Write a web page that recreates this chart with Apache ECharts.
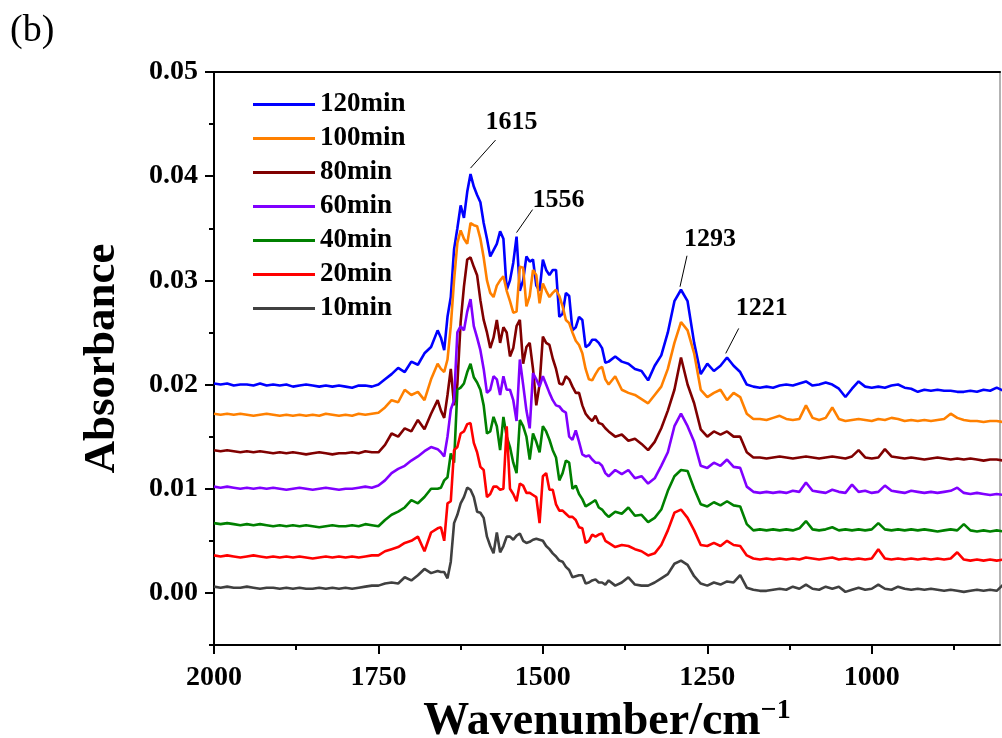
<!DOCTYPE html>
<html>
<head>
<meta charset="utf-8">
<script src="https://cdn.jsdelivr.net/npm/echarts@6/dist/echarts.min.js"></script>
<style>
html,body{margin:0;padding:0;background:#fff;}
#chart{width:1002px;height:738px;}
</style>
</head>
<body>
<div id="chart"></div>
<script>
// ---- data ----
// main sampling grid (every 10 cm-1) and extra mid points in the busy 1655-1405 band
const wavenumbers = [];
for (let w = 2000; w >= 800; w -= 10) wavenumbers.push(w);
const midWavenumbers = [];
for (let w = 1655; w >= 1405; w -= 10) midWavenumbers.push(w);

const seriesNames = ['120min','100min','80min','60min','40min','20min','10min'];

const abs120 = [
0.0201,0.0200,0.0201,0.0199,0.0200,0.0200,0.0199,0.0201,0.0199,0.0200,
0.0199,0.0200,0.0198,0.0199,0.0200,0.0199,0.0198,0.0199,0.0198,0.0199,
0.0198,0.0197,0.0199,0.0199,0.0198,0.0200,0.0205,0.0210,0.0216,0.0212,
0.0222,0.0219,0.0230,0.0236,0.0252,0.0233,0.0284,0.0350,0.0360,0.0402,
0.0382,0.0355,0.0323,0.0335,0.0340,0.0300,0.0342,0.0300,0.0318,0.0295,
0.0320,0.0305,0.0310,0.0268,0.0285,0.0255,0.0262,0.0238,0.0243,0.0235,
0.0222,0.0227,0.0222,0.0220,0.0215,0.0213,0.0204,0.0218,0.0228,0.0250,
0.0280,0.0291,0.0280,0.0240,0.0210,0.0220,0.0213,0.0218,0.0226,0.0218,
0.0212,0.0200,0.0198,0.0197,0.0198,0.0197,0.0199,0.0200,0.0199,0.0201,
0.0203,0.0199,0.0200,0.0202,0.0200,0.0196,0.0188,0.0196,0.0203,0.0198,
0.0197,0.0198,0.0197,0.0199,0.0200,0.0197,0.0196,0.0193,0.0195,0.0194,
0.0195,0.0194,0.0194,0.0193,0.0193,0.0194,0.0193,0.0195,0.0194,0.0197,
0.0194];
const mid120 = [0.0245,0.0265,0.0330,0.0372,0.0385,0.0390,0.0375,0.0340,0.0329,0.0347,
0.0291,0.0317,0.0290,0.0323,0.0320,0.0290,0.0310,0.0310,0.0265,0.0288,
0.0252,0.0265,0.0236,0.0243,0.0240,0.0221];

const abs100 = [
0.0172,0.0171,0.0172,0.0171,0.0172,0.0171,0.0170,0.0171,0.0172,0.0171,
0.0170,0.0171,0.0170,0.0171,0.0170,0.0171,0.0170,0.0172,0.0171,0.0170,
0.0171,0.0170,0.0172,0.0171,0.0172,0.0173,0.0178,0.0185,0.0183,0.0195,
0.0190,0.0193,0.0185,0.0205,0.0220,0.0212,0.0256,0.0336,0.0340,0.0355,
0.0352,0.0322,0.0288,0.0295,0.0304,0.0280,0.0270,0.0312,0.0285,0.0305,
0.0297,0.0284,0.0291,0.0275,0.0259,0.0242,0.0230,0.0205,0.0210,0.0217,
0.0200,0.0208,0.0195,0.0192,0.0190,0.0186,0.0182,0.0190,0.0198,0.0215,
0.0240,0.0260,0.0252,0.0230,0.0195,0.0188,0.0192,0.0195,0.0185,0.0192,
0.0188,0.0172,0.0167,0.0167,0.0166,0.0168,0.0170,0.0167,0.0166,0.0167,
0.0180,0.0168,0.0166,0.0168,0.0178,0.0167,0.0165,0.0166,0.0167,0.0166,
0.0165,0.0167,0.0166,0.0168,0.0167,0.0165,0.0166,0.0165,0.0166,0.0165,
0.0166,0.0167,0.0172,0.0168,0.0166,0.0165,0.0165,0.0164,0.0165,0.0165,
0.0164];
const mid100 = [0.0215,0.0224,0.0300,0.0348,0.0335,0.0353,0.0340,0.0300,0.0284,0.0300,
0.0290,0.0269,0.0313,0.0275,0.0310,0.0278,0.0290,0.0288,0.0285,0.0262,
0.0250,0.0238,0.0215,0.0204,0.0215,0.0205];

const abs80 = [
0.0137,0.0136,0.0137,0.0136,0.0135,0.0136,0.0135,0.0136,0.0135,0.0134,
0.0135,0.0134,0.0135,0.0134,0.0133,0.0134,0.0135,0.0134,0.0133,0.0134,
0.0134,0.0135,0.0134,0.0136,0.0135,0.0135,0.0142,0.0153,0.0150,0.0158,
0.0155,0.0166,0.0157,0.0172,0.0185,0.0168,0.0215,0.0200,0.0294,0.0322,
0.0305,0.0262,0.0235,0.0262,0.0255,0.0227,0.0256,0.0220,0.0240,0.0180,
0.0246,0.0238,0.0215,0.0200,0.0205,0.0192,0.0180,0.0168,0.0170,0.0162,
0.0155,0.0150,0.0152,0.0146,0.0148,0.0143,0.0137,0.0145,0.0158,0.0175,
0.0195,0.0226,0.0200,0.0182,0.0157,0.0150,0.0155,0.0152,0.0155,0.0150,
0.0150,0.0135,0.0130,0.0130,0.0129,0.0130,0.0131,0.0130,0.0129,0.0130,
0.0131,0.0130,0.0129,0.0130,0.0131,0.0130,0.0129,0.0131,0.0137,0.0130,
0.0129,0.0130,0.0138,0.0131,0.0130,0.0129,0.0130,0.0129,0.0128,0.0129,
0.0130,0.0129,0.0128,0.0129,0.0128,0.0129,0.0128,0.0127,0.0128,0.0128,
0.0127];
const mid80 = [0.0175,0.0190,0.0180,0.0260,0.0320,0.0313,0.0281,0.0250,0.0245,0.0240,
0.0250,0.0235,0.0262,0.0236,0.0215,0.0200,0.0240,0.0225,0.0201,0.0208,
0.0198,0.0192,0.0172,0.0165,0.0163,0.0158];

const abs60 = [
0.0102,0.0101,0.0102,0.0101,0.0100,0.0101,0.0100,0.0101,0.0100,0.0101,
0.0100,0.0099,0.0100,0.0101,0.0100,0.0099,0.0100,0.0101,0.0100,0.0099,
0.0100,0.0100,0.0101,0.0102,0.0101,0.0103,0.0108,0.0115,0.0119,0.0122,
0.0127,0.0131,0.0136,0.0140,0.0138,0.0131,0.0176,0.0250,0.0252,0.0282,
0.0245,0.0215,0.0195,0.0205,0.0208,0.0195,0.0165,0.0200,0.0158,0.0205,
0.0208,0.0192,0.0180,0.0175,0.0150,0.0156,0.0133,0.0132,0.0125,0.0122,
0.0112,0.0118,0.0114,0.0118,0.0110,0.0112,0.0105,0.0110,0.0122,0.0135,
0.0160,0.0172,0.0160,0.0145,0.0122,0.0120,0.0125,0.0122,0.0128,0.0121,
0.0120,0.0102,0.0097,0.0096,0.0097,0.0096,0.0097,0.0096,0.0098,0.0097,
0.0106,0.0098,0.0097,0.0096,0.0099,0.0097,0.0096,0.0104,0.0097,0.0098,
0.0096,0.0097,0.0103,0.0098,0.0097,0.0096,0.0098,0.0097,0.0096,0.0097,
0.0096,0.0097,0.0098,0.0101,0.0096,0.0095,0.0096,0.0095,0.0094,0.0095,
0.0094];
const mid60 = [0.0135,0.0150,0.0185,0.0256,0.0270,0.0256,0.0233,0.0192,0.0208,0.0190,
0.0195,0.0185,0.0224,0.0175,0.0211,0.0198,0.0200,0.0185,0.0179,0.0173,
0.0147,0.0145,0.0131,0.0128,0.0125,0.0115];

const abs40 = [
0.0067,0.0066,0.0067,0.0066,0.0065,0.0066,0.0065,0.0066,0.0065,0.0064,
0.0065,0.0064,0.0065,0.0064,0.0065,0.0064,0.0063,0.0064,0.0065,0.0064,
0.0064,0.0065,0.0064,0.0066,0.0065,0.0064,0.0070,0.0075,0.0078,0.0082,
0.0089,0.0086,0.0092,0.0100,0.0100,0.0108,0.0134,0.0195,0.0201,0.0220,
0.0202,0.0180,0.0155,0.0160,0.0169,0.0140,0.0115,0.0160,0.0128,0.0145,
0.0160,0.0147,0.0130,0.0115,0.0125,0.0103,0.0090,0.0085,0.0089,0.0080,
0.0073,0.0078,0.0076,0.0082,0.0074,0.0075,0.0068,0.0072,0.0080,0.0098,
0.0112,0.0118,0.0117,0.0100,0.0085,0.0083,0.0087,0.0084,0.0088,0.0084,
0.0083,0.0066,0.0060,0.0061,0.0060,0.0061,0.0060,0.0061,0.0060,0.0062,
0.0069,0.0061,0.0060,0.0061,0.0063,0.0060,0.0061,0.0060,0.0061,0.0060,
0.0061,0.0067,0.0061,0.0060,0.0061,0.0060,0.0061,0.0060,0.0061,0.0060,
0.0059,0.0060,0.0061,0.0060,0.0066,0.0060,0.0059,0.0060,0.0059,0.0060,
0.0059];
const mid40 = [0.0101,0.0111,0.0125,0.0197,0.0212,0.0207,0.0195,0.0153,0.0169,0.0137,
0.0150,0.0125,0.0166,0.0150,0.0153,0.0135,0.0155,0.0137,0.0108,0.0127,
0.0100,0.0095,0.0083,0.0087,0.0082,0.0076];

const abs20 = [
0.0036,0.0035,0.0036,0.0035,0.0034,0.0035,0.0036,0.0035,0.0034,0.0035,
0.0034,0.0035,0.0034,0.0035,0.0034,0.0033,0.0034,0.0035,0.0034,0.0035,
0.0034,0.0035,0.0034,0.0035,0.0036,0.0036,0.0040,0.0042,0.0044,0.0048,
0.0050,0.0054,0.0040,0.0058,0.0062,0.0050,0.0088,0.0140,0.0155,0.0163,
0.0135,0.0118,0.0095,0.0102,0.0100,0.0100,0.0088,0.0103,0.0096,0.0092,
0.0112,0.0099,0.0085,0.0079,0.0073,0.0070,0.0062,0.0050,0.0054,0.0057,
0.0048,0.0044,0.0046,0.0045,0.0042,0.0040,0.0036,0.0038,0.0046,0.0060,
0.0077,0.0080,0.0072,0.0060,0.0046,0.0045,0.0048,0.0045,0.0050,0.0046,
0.0045,0.0036,0.0033,0.0032,0.0033,0.0032,0.0033,0.0032,0.0033,0.0032,
0.0034,0.0033,0.0032,0.0033,0.0034,0.0032,0.0033,0.0032,0.0033,0.0032,
0.0033,0.0042,0.0033,0.0032,0.0033,0.0032,0.0033,0.0032,0.0033,0.0032,
0.0033,0.0032,0.0033,0.0039,0.0032,0.0031,0.0032,0.0031,0.0032,0.0031,
0.0032];
const mid20 = [0.0063,0.0086,0.0137,0.0153,0.0162,0.0144,0.0121,0.0092,0.0102,0.0099,
0.0160,0.0095,0.0105,0.0096,0.0094,0.0067,0.0115,0.0099,0.0079,0.0076,
0.0073,0.0063,0.0048,0.0056,0.0056,0.0050];

const abs10 = [
0.0006,0.0005,0.0006,0.0005,0.0005,0.0006,0.0005,0.0004,0.0005,0.0005,
0.0004,0.0005,0.0004,0.0005,0.0004,0.0004,0.0005,0.0004,0.0005,0.0004,
0.0005,0.0004,0.0005,0.0006,0.0007,0.0007,0.0009,0.0010,0.0009,0.0015,
0.0012,0.0017,0.0023,0.0019,0.0021,0.0020,0.0030,0.0075,0.0092,0.0099,
0.0078,0.0072,0.0045,0.0058,0.0045,0.0054,0.0055,0.0050,0.0049,0.0052,
0.0050,0.0042,0.0035,0.0030,0.0022,0.0016,0.0017,0.0010,0.0013,0.0010,
0.0012,0.0007,0.0010,0.0015,0.0008,0.0007,0.0007,0.0010,0.0014,0.0018,
0.0028,0.0031,0.0027,0.0016,0.0009,0.0007,0.0010,0.0008,0.0011,0.0010,
0.0017,0.0005,0.0003,0.0002,0.0002,0.0003,0.0004,0.0003,0.0006,0.0004,
0.0008,0.0004,0.0003,0.0006,0.0004,0.0006,0.0001,0.0003,0.0005,0.0003,
0.0004,0.0008,0.0004,0.0003,0.0006,0.0004,0.0003,0.0004,0.0003,0.0004,
0.0003,0.0002,0.0003,0.0002,0.0001,0.0002,0.0003,0.0002,0.0003,0.0002,
0.0008];
const mid10 = [0.0020,0.0014,0.0067,0.0086,0.0101,0.0092,0.0077,0.0054,0.0038,0.0039,
0.0054,0.0051,0.0057,0.0048,0.0051,0.0051,0.0045,0.0038,0.0031,0.0025,
0.0015,0.0017,0.0009,0.0012,0.0010,0.0008];

const seriesValues = [abs120, abs100, abs80, abs60, abs40, abs20, abs10];
const seriesMidValues = [mid120, mid100, mid80, mid60, mid40, mid20, mid10];
const seriesColors = ['#0000FF','#FF8000','#800000','#8000FF','#008000','#FF0000','#404040'];

const xMajorTicks = [2000, 1750, 1500, 1250, 1000];
const xMinorTicks = [1875, 1625, 1375, 1125, 875];
const yMajorTicks = [0, 0.01, 0.02, 0.03, 0.04, 0.05];
const yMinorTicks = [-0.005, 0.005, 0.015, 0.025, 0.035, 0.045];

// peak annotations: label, wavenumber, absorbance of the 120min curve
const peakLabels = ['1615', '1556', '1293', '1221'];
const peakWavenumbers = [1610, 1540, 1290, 1222];
const peakValues = [0.0402, 0.0342, 0.0291, 0.0227];

// ---- chart ----
const FONT = '"Liberation Serif","Times New Roman",serif';
const chart = echarts.init(document.getElementById('chart'), null, {renderer: 'canvas'});

function buildPoints(i) {
  const pts = wavenumbers.map((w, k) => [w, seriesValues[i][k]])
    .concat(midWavenumbers.map((w, k) => [w, seriesMidValues[i][k]]));
  pts.sort((a, b) => b[0] - a[0]);
  return pts;
}

const series = seriesNames.map((name, i) => ({
  name: name,
  type: 'line',
  symbol: 'none',
  showSymbol: false,
  animation: false,
  clip: true,
  z: 2 + i,
  lineStyle: {color: seriesColors[i], width: 2.6},
  itemStyle: {color: seriesColors[i]},
  data: buildPoints(i)
}));

const plainAxisCommon = {
  splitLine: {show: false},
  axisLabel: {show: false},
  axisTick: {show: false}
};

const option = {
  animation: false,
  backgroundColor: '#fff',
  grid: {left: 214, right: 2, top: 72, bottom: 93, containLabel: false, outerBoundsMode: 'none'},
  legend: {
    orient: 'vertical',
    left: 248,
    top: 85,
    itemWidth: 62,
    itemHeight: 14,
    itemGap: 5,
    icon: 'path://M0,6L62,6L62,9L0,9Z',
    data: seriesNames,
    textStyle: {fontFamily: FONT, fontWeight: 'bold', fontSize: 27, color: '#000', lineHeight: 27, padding: [2,0,0,0]}
  },
  xAxis: [
    {
      type: 'value', inverse: true, min: 805, max: 2000, position: 'bottom',
      name: '{t|Wavenumber/cm}{s|\u22121}',
      nameLocation: 'middle', nameGap: 46,
      nameTextStyle: {
        rich: {
          t: {fontFamily: FONT, fontWeight: 'bold', fontSize: 46, color: '#000', lineHeight: 50},
          s: {fontFamily: FONT, fontWeight: 'bold', fontSize: 28, color: '#000', verticalAlign: 'top', lineHeight: 14}
        }
      },
      axisLine: {show: true, onZero: false, lineStyle: {color: '#000', width: 2}},
      axisTick: {show: true, inside: false, length: 9, lineStyle: {color: '#000', width: 2}, customValues: xMajorTicks},
      axisLabel: {show: true, margin: 19, customValues: xMajorTicks, fontFamily: FONT, fontWeight: 'bold', fontSize: 28, color: '#000',
        formatter: v => String(v)},
      splitLine: {show: false}
    },
    {
      type: 'value', inverse: true, min: 805, max: 2000, position: 'bottom', offset: 0,
      axisLine: {show: false, onZero: false},
      axisTick: {show: true, length: 5, lineStyle: {color: '#000', width: 2}, customValues: xMinorTicks},
      axisLabel: {show: false},
      splitLine: {show: false}
    },
    Object.assign({
      type: 'value', inverse: true, min: 805, max: 2000, position: 'top',
      axisLine: {show: true, onZero: false, lineStyle: {color: '#000', width: 2}}
    }, plainAxisCommon)
  ],
  yAxis: [
    {
      type: 'value', min: -0.005, max: 0.05, position: 'left',
      name: 'Absorbance', nameLocation: 'middle', nameGap: 89, nameRotate: 90,
      nameTextStyle: {fontFamily: FONT, fontWeight: 'bold', fontSize: 45, color: '#000'},
      axisLine: {show: true, onZero: false, lineStyle: {color: '#000', width: 2}},
      axisTick: {show: true, length: 9, lineStyle: {color: '#000', width: 2}, customValues: yMajorTicks},
      axisLabel: {show: true, margin: 16, customValues: yMajorTicks, fontFamily: FONT, fontWeight: 'bold', fontSize: 28, color: '#000',
        formatter: v => v.toFixed(2)},
      splitLine: {show: false}
    },
    {
      type: 'value', min: -0.005, max: 0.05, position: 'left', offset: 0,
      axisLine: {show: false, onZero: false},
      axisTick: {show: true, length: 5, lineStyle: {color: '#000', width: 2}, customValues: yMinorTicks},
      axisLabel: {show: false},
      splitLine: {show: false}
    },
    Object.assign({
      type: 'value', min: -0.005, max: 0.05, position: 'right',
      axisLine: {show: true, onZero: false, lineStyle: {color: '#9a9a9a', width: 1.5}}
    }, plainAxisCommon)
  ],
  series: series,
  graphic: [
    {type: 'text', left: 10, top: 12, style: {text: '(b)', fontFamily: FONT, fontSize: 38, fill: '#000'}}
  ]
};

chart.setOption(option);

// annotation leader lines and labels, positioned from the data coordinates of each peak
const leaderOffsets = [[0,-6,25,-28,16,-18],[0,-4,16,-23,26,-9],[-1,-3,7,-31,23,-16],[0,-3,13,-25,23,-20]];
const annGraphics = [];
peakLabels.forEach((lab, i) => {
  const p = chart.convertToPixel({gridIndex: 0}, [peakWavenumbers[i], peakValues[i]]);
  const o = leaderOffsets[i];
  const x1 = p[0] + o[0], y1 = p[1] + o[1];
  const x2 = x1 + o[2], y2 = y1 + o[3];
  annGraphics.push({type: 'line', z: 50, shape: {x1: x1, y1: y1, x2: x2, y2: y2}, style: {stroke: '#000', lineWidth: 1}});
  annGraphics.push({type: 'text', z: 50, x: x2 + o[4], y: y2 + o[5],
    style: {text: lab, fontFamily: FONT, fontWeight: 'bold', fontSize: 26, fill: '#000', align: 'center', verticalAlign: 'middle'}});
});
chart.setOption({graphic: option.graphic.concat(annGraphics)});
</script>
</body>
</html>
